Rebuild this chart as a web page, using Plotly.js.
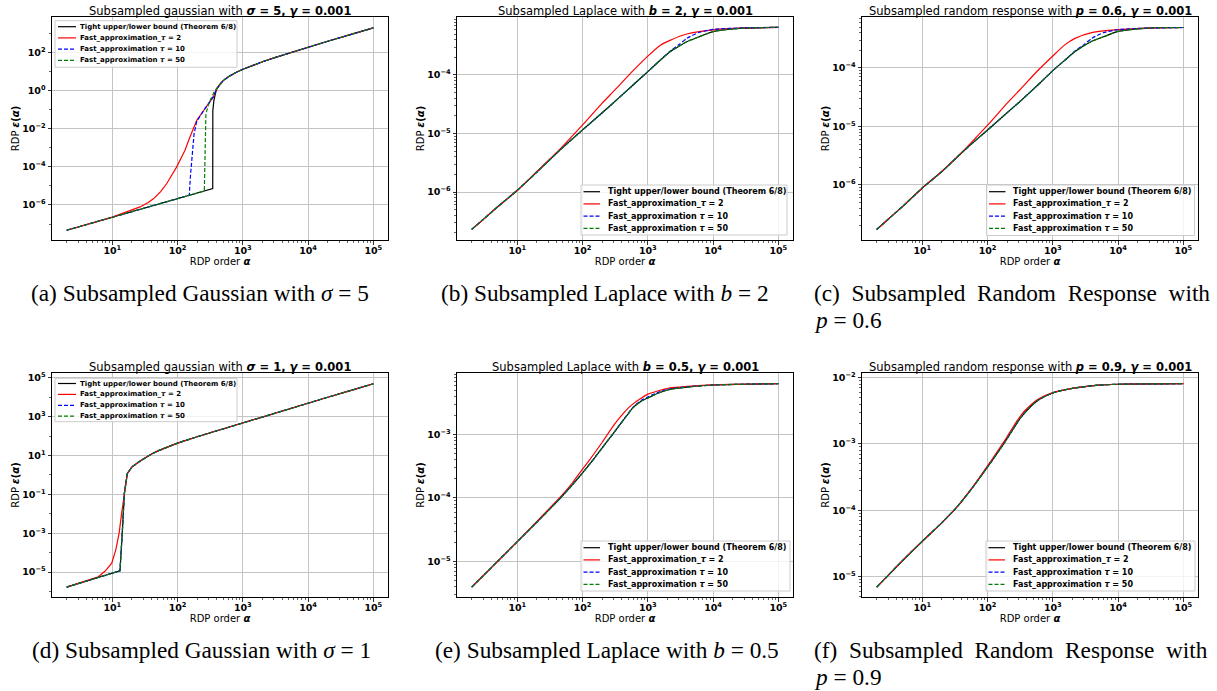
<!DOCTYPE html>
<html><head><meta charset="utf-8">
<script src="https://cdn.plot.ly/plotly-3.0.1.min.js"></script>
<style>body{margin:0;background:#fff}</style></head>
<body><div id="chart" style="width:1217px;height:691px"></div>
<script>
// ---------------- DATA ----------------
// (a) Subsampled Gaussian sigma=5
const upperA_x = [450,500,600,700,800,1000,1500,2000,3000,5000,10000,20000,50000,100000];
const upperA_y = [2.3,3.4,5.4,7.4,9.4,13.3,23,33,53,93,193,393,993,1993];
const tightA_x = [2,3,5,10,20,30,50,100,150,200,250,300,346,347,360,380,400];
const tightA_y = [4.7e-8,6.95e-8,1.15e-7,2.26e-7,4.45e-7,6.6e-7,1.09e-6,2.15e-6,3.2e-6,4.25e-6,5.3e-6,6.3e-6,7.26e-6,0.09,0.3,0.7,1.3];
const tau2A_x = [2,3,5,10,13,20,26.6,35,42.6,55,68,80,97,115,130,150,165,180,197,230,263,300,353,400];
const tau2A_y = [4.7e-8,6.95e-8,1.15e-7,2.3e-7,3.2e-7,5.3e-7,7.9e-7,1.3e-6,2.1e-6,5e-6,1.3e-5,3.3e-5,1e-4,3.2e-4,7.4e-4,2.8e-3,6.8e-3,0.0138,0.028,0.06,0.114,0.216,0.47,1.3];
const tau10A_x = [2,3,5,10,20,30,50,100,151,158,165,179,197,230,263,300,353,400];
const tau10A_y = [4.7e-8,6.95e-8,1.15e-7,2.26e-7,4.45e-7,6.6e-7,1.09e-6,2.15e-6,3.2e-6,3.8e-5,3.3e-4,5.5e-3,0.025,0.06,0.114,0.216,0.47,1.3];
const tau50A_x = [2,3,5,10,20,30,50,100,150,200,257,266,272,307,340,375,400];
const tau50A_y = [4.7e-8,6.95e-8,1.15e-7,2.26e-7,4.45e-7,6.6e-7,1.09e-6,2.15e-6,3.2e-6,4.25e-6,5.4e-6,1.7e-3,0.062,0.26,0.52,1.05,1.3];

// (b) Subsampled Laplace b=2
const tightB_x = [2,3,5,10,20,45,100,200,311,600,1000,1500,2190,2800,3950,6000,10000,29000,100000];
const tightB_y = [2.3e-7,3.4e-7,5.6e-7,1.07e-6,2.2e-6,5.2e-6,1.15e-5,2.26e-5,3.5e-5,6.8e-5,1.14e-4,1.73e-4,2.5e-4,2.95e-4,3.7e-4,4.45e-4,5.5e-4,6.3e-4,6.5e-4];
const tau2B_x = [2,3,5,10,20,45,100,200,311,600,1000,1540,2190,3950,10000,30000,100000];
const tau2B_y = [2.3e-7,3.4e-7,5.6e-7,1.07e-6,2.25e-6,5.4e-6,1.4e-5,3.3e-5,5.5e-5,1.2e-4,2.1e-4,3.2e-4,3.9e-4,5e-4,5.9e-4,6.35e-4,6.5e-4];
const tau10B_x = [2,3,5,10,20,45,100,200,311,600,1000,1500,2190,3000,3950,6000,10000,29000,100000];
const tau10B_y = [2.3e-7,3.4e-7,5.6e-7,1.07e-6,2.2e-6,5.2e-6,1.15e-5,2.26e-5,3.5e-5,6.8e-5,1.14e-4,1.73e-4,2.55e-4,3.3e-4,4.2e-4,5.3e-4,6e-4,6.35e-4,6.5e-4];
const tau50B_x = [2,3,5,10,20,45,100,200,311,600,1000,1500,2190,2800,3950,6000,10000,29000,100000];
const tau50B_y = [2.3e-7,3.4e-7,5.6e-7,1.07e-6,2.2e-6,5.2e-6,1.15e-5,2.26e-5,3.5e-5,6.8e-5,1.14e-4,1.73e-4,2.5e-4,2.95e-4,3.7e-4,4.45e-4,5.5e-4,6.3e-4,6.5e-4];

// (c) Subsampled random response p=0.6
const tightC_x = [2,3,5,10,20,45,100,200,311,600,1000,1500,2190,3950,6000,10000,29000,100000];
const tightC_y = [1.74e-7,2.6e-7,4.3e-7,8.9e-7,1.7e-6,4e-6,8.7e-6,1.72e-5,2.65e-5,5.2e-5,9e-5,1.33e-4,1.9e-4,2.85e-4,3.4e-4,4.2e-4,4.8e-4,4.9e-4];
const tau2C_x = [2,3,5,10,20,45,100,200,311,600,1000,1540,2190,3950,10000,30000,100000];
const tau2C_y = [1.74e-7,2.6e-7,4.3e-7,8.9e-7,1.72e-6,4.1e-6,1.05e-5,2.5e-5,4.2e-5,9.2e-5,1.6e-4,2.5e-4,3.2e-4,4e-4,4.5e-4,4.8e-4,4.9e-4];
const tau10C_x = [2,3,5,10,20,45,100,200,311,600,1000,1500,2190,3000,3950,6000,10000,29000,100000];
const tau10C_y = [1.74e-7,2.6e-7,4.3e-7,8.9e-7,1.7e-6,4e-6,8.7e-6,1.72e-5,2.65e-5,5.2e-5,9e-5,1.33e-4,1.95e-4,2.5e-4,3.2e-4,4e-4,4.5e-4,4.8e-4,4.9e-4];
const tau50C_x = [2,3,5,10,20,45,100,200,311,600,1000,1500,2190,3950,6000,10000,29000,100000];
const tau50C_y = [1.74e-7,2.6e-7,4.3e-7,8.9e-7,1.7e-6,4e-6,8.7e-6,1.72e-5,2.65e-5,5.2e-5,9e-5,1.33e-4,1.9e-4,2.85e-4,3.4e-4,4.2e-4,4.8e-4,4.9e-4];

// (d) Subsampled Gaussian sigma=1
const upperD_x = [17,20,25,30,40,50,64,100,200,500,1000,2000,5000,10000,20000,50000,100000];
const upperD_y = [1.2,2.6,4.5,6.8,12,17.5,24,44,93,240,490,990,2500,5000,10000,25000,50000];
const tightD_x = [2,3,5,7,10,13.1,14.2,15.3];
const tightD_y = [1.7e-6,2.58e-6,4.37e-6,6.16e-6,8.9e-6,1.18e-5,1e-3,0.115];
const tau2D_x = [2,3,5,6.1,7.7,9.8,11.3,12.7,13.9,15.2];
const tau2D_y = [1.7e-6,2.58e-6,4.37e-6,5.8e-6,1.1e-5,2.9e-5,1.4e-4,1e-3,0.011,0.115];
const tau10D_x = [2,3,5,7,10,13.1,14.2,15.3];
const tau10D_y = [1.7e-6,2.58e-6,4.37e-6,6.16e-6,8.9e-6,1.18e-5,1e-3,0.115];
const tau50D_x = [2,3,5,7,10,13.1,14.2,15.3];
const tau50D_y = [1.7e-6,2.58e-6,4.37e-6,6.16e-6,8.9e-6,1.18e-5,1e-3,0.115];

// (e) Subsampled Laplace b=0.5
const alphaE = [2,3,5,10,20,30,45,70,100,150,200,311,400,500,600,800,1000,1500,2190,4000,10000,100000];
const tightE_y = [3.9e-6,5.9e-6,1e-5,2.04e-5,4.17e-5,6.38e-5,9.8e-5,1.62e-4,2.5e-4,4.2e-4,6.2e-4,1.12e-3,1.58e-3,2.14e-3,2.7e-3,3.4e-3,3.8e-3,4.6e-3,5.2e-3,5.65e-3,6.1e-3,6.4e-3];
const tau2E_y  = [3.9e-6,5.9e-6,1e-5,2.04e-5,4.27e-5,6.6e-5,1.02e-4,1.74e-4,2.85e-4,5e-4,7.6e-4,1.48e-3,2.04e-3,2.63e-3,3.1e-3,3.8e-3,4.37e-3,5e-3,5.5e-3,5.8e-3,6.15e-3,6.4e-3];
const tau10E_y = [3.9e-6,5.9e-6,1e-5,2.04e-5,4.17e-5,6.38e-5,9.8e-5,1.62e-4,2.5e-4,4.2e-4,6.2e-4,1.12e-3,1.6e-3,2.18e-3,2.75e-3,3.5e-3,3.95e-3,4.75e-3,5.3e-3,5.7e-3,6.1e-3,6.4e-3];
const tau50E_y = [3.9e-6,5.9e-6,1e-5,2.04e-5,4.17e-5,6.38e-5,9.8e-5,1.62e-4,2.5e-4,4.2e-4,6.2e-4,1.12e-3,1.58e-3,2.14e-3,2.7e-3,3.4e-3,3.8e-3,4.6e-3,5.2e-3,5.65e-3,6.1e-3,6.4e-3];

// (f) Subsampled random response p=0.9
const alphaF = [2,3,5,10,20,34,60,100,140,185,250,333,450,600,1000,2000,5000,10000,100000];
const tightF_y = [6.9e-6,1.04e-5,1.74e-5,3.4e-5,6.5e-5,1.12e-4,2.25e-4,4.5e-4,7.2e-4,1.07e-3,1.72e-3,2.6e-3,3.6e-3,4.6e-3,5.9e-3,6.9e-3,7.7e-3,7.95e-3,8.1e-3];
const tau2F_y  = [6.9e-6,1.04e-5,1.74e-5,3.4e-5,6.5e-5,1.12e-4,2.28e-4,4.65e-4,7.6e-4,1.14e-3,1.85e-3,2.8e-3,3.8e-3,4.75e-3,5.95e-3,6.9e-3,7.7e-3,7.95e-3,8.1e-3];
const tau10F_y = [6.9e-6,1.04e-5,1.74e-5,3.4e-5,6.5e-5,1.12e-4,2.25e-4,4.5e-4,7.2e-4,1.07e-3,1.72e-3,2.6e-3,3.6e-3,4.6e-3,5.9e-3,6.9e-3,7.7e-3,7.95e-3,8.1e-3];
const tau50F_y = [6.9e-6,1.04e-5,1.74e-5,3.4e-5,6.5e-5,1.12e-4,2.25e-4,4.5e-4,7.2e-4,1.07e-3,1.72e-3,2.6e-3,3.6e-3,4.6e-3,5.9e-3,6.9e-3,7.7e-3,7.95e-3,8.1e-3];

const seriesNames = ['Tight upper/lower bound (Theorem 6/8)','Fast_approximation_<i>τ</i> = 2','Fast_approximation <i>τ</i> = 10','Fast_approximation <i>τ</i> = 50'];
const xTickVals = [10,100,1000,10000,100000];
const xTickText = ['10<sup>1</sup>','10<sup>2</sup>','10<sup>3</sup>','10<sup>4</sup>','10<sup>5</sup>'];

// ---------------- LAYOUT ----------------
const W = 1217, H = 691;
const cols = [[52,388],[457,793],[862,1198]];
const rows = [[17,240],[373,597]];
const FONT = 'DejaVu Sans';

const panels = [
 {c:0,r:0, smooth:false, series:[[tightA_x,tightA_y.concat(upperA_y)],[tau2A_x,tau2A_y.concat(upperA_y)],[tau10A_x,tau10A_y.concat(upperA_y)],[tau50A_x,tau50A_y.concat(upperA_y)]], upx:upperA_x,
  yr:[-7.84,3.87], yt:[1e-6,1e-4,1e-2,1,100], ytt:['10<sup>−6</sup>','10<sup>−4</sup>','10<sup>−2</sup>','10<sup>0</sup>','10<sup>2</sup>'], ym:[1e-7,1e-5,1e-3,0.1,10,1000],
  title:'Subsampled gaussian with <b><i>σ</i> = 5, <i>γ</i> = 0.001</b>',
  leg:{x0:55,x1:237,y0:20.7,y1:67.3,r0:26.7,dy:11.2,l0:58,l1:76,tx:78.5,fs:7}},
 {c:1,r:0, smooth:true, series:[[tightB_x,tightB_y],[tau2B_x,tau2B_y],[tau10B_x,tau10B_y],[tau50B_x,tau50B_y]],
  yr:[-6.82,-3.01], yt:[1e-6,1e-5,1e-4], ytt:['10<sup>−6</sup>','10<sup>−5</sup>','10<sup>−4</sup>'], ym:null,
  title:'Subsampled Laplace with <b><i>b</i> = 2, <i>γ</i> = 0.001</b>',
  leg:{x0:581,x1:787,y0:185,y1:235,r0:191.7,dy:12.2,l0:583.5,l1:600,tx:606.5,fs:8}},
 {c:2,r:0, smooth:true, series:[[tightC_x,tightC_y],[tau2C_x,tau2C_y],[tau10C_x,tau10C_y],[tau50C_x,tau50C_y]],
  yr:[-6.94,-3.13], yt:[1e-6,1e-5,1e-4], ytt:['10<sup>−6</sup>','10<sup>−5</sup>','10<sup>−4</sup>'], ym:null,
  title:'Subsampled random response with <b><i>p</i> = 0.6, <i>γ</i> = 0.001</b>',
  leg:{x0:986.5,x1:1194.5,y0:185,y1:235.5,r0:191.7,dy:12.2,l0:989,l1:1005.5,tx:1012,fs:8}},
 {c:0,r:1, smooth:false, series:[[tightD_x,tightD_y.concat(upperD_y)],[tau2D_x,tau2D_y.concat(upperD_y)],[tau10D_x,tau10D_y.concat(upperD_y)],[tau50D_x,tau50D_y.concat(upperD_y)]], upx:upperD_x,
  yr:[-6.28,5.25], yt:[1e-5,1e-3,1e-1,10,1000,1e5], ytt:['10<sup>−5</sup>','10<sup>−3</sup>','10<sup>−1</sup>','10<sup>1</sup>','10<sup>3</sup>','10<sup>5</sup>'], ym:[1e-6,1e-4,1e-2,1,100,1e4],
  title:'Subsampled gaussian with <b><i>σ</i> = 1, <i>γ</i> = 0.001</b>',
  leg:{x0:55,x1:237,y0:378.3,y1:421.7,r0:383.5,dy:10.9,l0:58,l1:76,tx:78.5,fs:7}},
 {c:1,r:1, smooth:true, series:[[alphaE,tightE_y],[alphaE,tau2E_y],[alphaE,tau10E_y],[alphaE,tau50E_y]],
  yr:[-5.565,-2.025], yt:[1e-5,1e-4,1e-3], ytt:['10<sup>−5</sup>','10<sup>−4</sup>','10<sup>−3</sup>'], ym:null,
  title:'Subsampled Laplace with <b><i>b</i> = 0.5, <i>γ</i> = 0.001</b>',
  leg:{x0:581,x1:790,y0:541,y1:591,r0:547.7,dy:12.2,l0:583.5,l1:600,tx:606.5,fs:8}},
 {c:2,r:1, smooth:true, series:[[alphaF,tightF_y],[alphaF,tau2F_y],[alphaF,tau10F_y],[alphaF,tau50F_y]],
  yr:[-5.31,-1.93], yt:[1e-5,1e-4,1e-3,1e-2], ytt:['10<sup>−5</sup>','10<sup>−4</sup>','10<sup>−3</sup>','10<sup>−2</sup>'], ym:null,
  title:'Subsampled random response with <b><i>p</i> = 0.9, <i>γ</i> = 0.001</b>',
  leg:{x0:986,x1:1195,y0:541,y1:591,r0:547.7,dy:12.2,l0:988.5,l1:1005,tx:1011.5,fs:8}}
];

const colors = ['#000000','#ff0000','#0000ff','#008000'];
const dashes = ['solid','solid','4px,2px','4px,2px'];

function minorDecades(lo, hi){ const v=[]; for(let e=lo;e<=hi;e++){ for(let m=2;m<=9;m++) v.push(m*Math.pow(10,e)); } return v; }
const px = v => v/W, py = v => 1 - v/H;

const data = [];
const layout = {width:W, height:H, margin:{l:0,r:0,t:0,b:0}, paper_bgcolor:'#fff', plot_bgcolor:'#fff',
  font:{family:FONT, color:'#000'}, showlegend:false, annotations:[], shapes:[]};

panels.forEach((p,i)=>{
  const k = i+1, sfx = k===1?'':String(k);
  const xd = cols[p.c], yd = rows[p.r];
  p.series.forEach((s,j)=>{
    const xs = p.upx ? s[0].concat(p.upx) : s[0];
    const line = {color:colors[j], width:1.2, dash:dashes[j]};
    if(p.smooth){ line.shape = 'spline'; line.smoothing = 0.6; }
    data.push({type:'scatter', mode:'lines', x:xs, y:s[1], name:seriesNames[j],
      xaxis:'x'+sfx, yaxis:'y'+sfx, line:line, hoverinfo:'skip'});
  });
  const axCommon = {type:'log', showline:true, mirror:true, linecolor:'#000', linewidth:1,
    ticks:'outside', ticklen:3.5, tickwidth:0.8, tickcolor:'#000', showgrid:true, gridcolor:'#c4c4c4', gridwidth:1,
    zeroline:false, tickfont:{family:FONT, size:9.5, weight:'bold', color:'#000'}};
  layout['xaxis'+sfx] = Object.assign({}, axCommon, {
    domain:[xd[0]/W, xd[1]/W], anchor:'y'+sfx, range:[0.0756,5.225],
    tickmode:'array', tickvals:xTickVals, ticktext:xTickText, ticklabelstandoff:-2,
    minor:{tickmode:'array', tickvals:minorDecades(0,4), ticks:'outside', ticklen:2, tickwidth:0.6, tickcolor:'#000', showgrid:false},
    title:{text:'RDP order <b><i>α</i></b>', font:{family:FONT, size:10, color:'#000'}, standoff:0}});
  layout['yaxis'+sfx] = Object.assign({}, axCommon, {
    domain:[1-yd[1]/H, 1-yd[0]/H], anchor:'x'+sfx, range:p.yr,
    tickmode:'array', tickvals:p.yt, ticktext:p.ytt,
    minor:{tickmode:'array', tickvals:p.ym ? p.ym : minorDecades(-8,-2), ticks:'outside', ticklen:2, tickwidth:0.6, tickcolor:'#000', showgrid:false},
    title:{text:'RDP <b><i>ε</i>(<i>α</i>)</b>', font:{family:FONT, size:10, color:'#000'}, standoff:0}});
  // subplot title
  layout.annotations.push({xref:'paper', yref:'paper', x:px((xd[0]+xd[1])/2), y:py(yd[0]-6.5),
    xanchor:'center', yanchor:'middle', showarrow:false, text:p.title,
    font:{family:FONT, size:11.5, color:'#000'}});
  // legend box (matplotlib style, drawn inside the axes)
  const g = p.leg;
  layout.shapes.push({type:'rect', xref:'paper', yref:'paper', x0:px(g.x0), x1:px(g.x1), y0:py(g.y1), y1:py(g.y0),
    fillcolor:'rgba(255,255,255,0.8)', line:{color:'#cccccc', width:1}, layer:'above'});
  seriesNames.forEach((nm,j)=>{
    const ry = g.r0 + j*g.dy;
    layout.shapes.push({type:'line', xref:'paper', yref:'paper', x0:px(g.l0), x1:px(g.l1), y0:py(ry), y1:py(ry),
      line:{color:colors[j], width:1.2, dash:dashes[j]}, layer:'above'});
    layout.annotations.push({xref:'paper', yref:'paper', x:px(g.tx), y:py(ry), xanchor:'left', yanchor:'middle',
      showarrow:false, text:nm, font:{family:FONT, size:g.fs, weight:'bold', color:'#000'}, borderpad:0});
  });
});

// captions
const capFont = {family:'Liberation Serif', size:23.3, color:'#000'};
const NB = '\u00a0\u00a0';
const captions = [
  {t:'(a) Subsampled Gaussian with <i>σ</i> = 5', x:200, y:293, a:'center'},
  {t:'(b) Subsampled Laplace with <i>b</i> = 2', x:605, y:293, a:'center'},
  {t:'(c)'+NB+'Subsampled'+NB+'Random'+NB+'Response'+NB+'with', x:812, y:293, a:'left'},
  {t:'<i>p</i> = 0.6', x:812, y:320, a:'left'},
  {t:'(d) Subsampled Gaussian with <i>σ</i> = 1', x:201, y:650, a:'center'},
  {t:'(e) Subsampled Laplace with <i>b</i> = 0.5', x:607, y:650, a:'center'},
  {t:'(f)'+NB+'Subsampled'+NB+'Random'+NB+'Response'+NB+'with', x:812, y:650, a:'left'},
  {t:'<i>p</i> = 0.9', x:812, y:677, a:'left'}
];
captions.forEach(c=>layout.annotations.push({xref:'paper', yref:'paper', x:px(c.x), y:py(c.y),
  xanchor:c.a, yanchor:'middle', showarrow:false, text:c.t, font:capFont}));

Plotly.newPlot('chart', data, layout, {displayModeBar:false, staticPlot:true});
</script></body></html>
